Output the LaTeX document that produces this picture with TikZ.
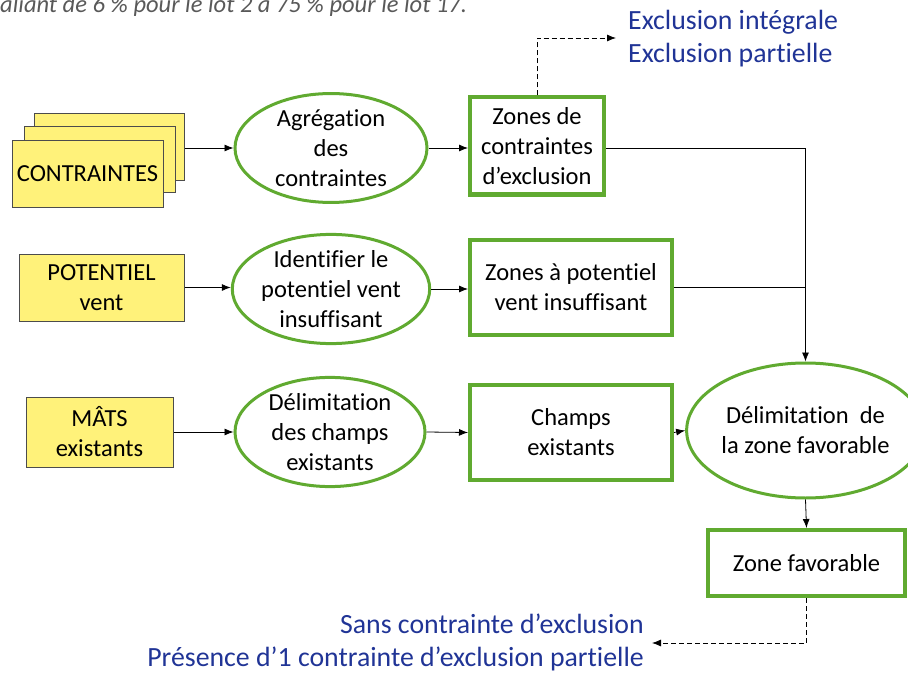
\documentclass[tikz,border=0pt]{standalone}
\usepackage{fontspec}
\setmainfont{Carlito}[Ligatures=NoCommon]
\usetikzlibrary{shapes.geometric,arrows.meta}
\definecolor{ybox}{RGB}{255,242,122}
\definecolor{gline}{RGB}{96,170,48}
\definecolor{btext}{RGB}{32,52,150}
\definecolor{gtext}{RGB}{89,89,89}
\tikzset{
  ybox/.style={draw=black!70, line width=1pt, fill=ybox, inner sep=0pt, align=center,
    font=\fontsize{24.5}{30}\selectfont},
  gell/.style={ellipse, draw=gline, line width=3pt, fill=white, inner sep=0pt, align=center,
    font=\fontsize{24.5}{30}\selectfont},
  grect/.style={draw=gline, line width=4pt, fill=white, inner sep=0pt, align=center,
    font=\fontsize{24.5}{30}\selectfont},
  conn/.style={line width=0.8pt, -{Latex[length=9pt,width=7pt]}},
  plain/.style={line width=0.8pt},
  dconn/.style={line width=0.8pt, dash pattern=on 5pt off 3pt, -{Latex[length=9pt,width=7pt]}},
  btxt/.style={text=btext, inner sep=0pt, font=\fontsize{27.8}{33}\selectfont},
}
\begin{document}
\begin{tikzpicture}[x=1pt,y=-1pt]
\useasboundingbox (0,0) rectangle (908,674);
% top cropped italic text
\node[anchor=base west, inner sep=0pt, text=gtext, font=\fontsize{24.5}{28}\selectfont\itshape] (top) at (0,13) {aliant de 6 \% pour le lot 2 à 75 \% pour le lot 17.};

% row 1
\node[ybox, minimum width=150pt, minimum height=67pt] (c3) at (109,147.5) {};
\node[ybox, minimum width=151pt, minimum height=66pt] (c2) at (99.5,160) {};
\node[ybox, minimum width=151pt, minimum height=66pt] (c1) at (87.5,174) {CONTRAINTES};
\node[gell, minimum width=192pt, minimum height=86pt] (e1) at (331,148) {Agrégation\\des\\contraintes};
\node[grect, minimum width=134pt, minimum height=97pt] (r1) at (537,146) {Zones de\\contraintes\\d’exclusion};

% row 2
\node[ybox, minimum width=165pt, minimum height=67pt] (p) at (101.5,287.5) {POTENTIEL\\vent};
\node[gell, minimum width=192pt, minimum height=84pt] (e2) at (331,289) {Identifier le\\potentiel vent\\insuffisant};
\node[grect, minimum width=202pt, minimum height=95pt] (r2) at (571,287.5) {Zones à potentiel\\vent insuffisant};

% row 3
\node[ybox, minimum width=147pt, minimum height=70pt] (m) at (99.5,432) {MÂTS\\existants};
\node[gell, minimum width=190pt, minimum height=92pt] (e3) at (330,432) {Délimitation\\des champs\\existants};
\node[grect, minimum width=202pt, minimum height=95pt] (r3) at (571,432.5) {Champs\\existants};
\node[gell, minimum width=195pt, minimum height=135pt] (ef) at (805.5,430.5) {Délimitation~~de\\la zone favorable};
\node[grect, minimum width=197pt, minimum height=66pt] (zf) at (806.5,563) {Zone favorable};

% blue texts (base anchor = baseline of last line)
\node[btxt, anchor=base west, align=left] (tex) at (628,63) {Exclusion intégrale\\Exclusion partielle};
\coordinate (ax) at (616,38);
\node[btxt, anchor=base east, align=right] (tbx) at (644,666) {Sans contrainte d’exclusion\\Présence d’1 contrainte d’exclusion partielle};
\coordinate (bx) at (652,643);

% connectors
\draw[conn] (c3.east |- 0,148) -- (e1.west);
\draw[conn] (e1.east) -- (e1.east -| r1.west);
\draw[conn] (r1.east |- e1.east) -| (ef.north);
\draw[plain] (r2.east) -- (r2.east -| ef.north);
\draw[conn] (p.east) -- (p.east -| e2.west);
\draw[conn] (e2.east) -- (e2.east -| r2.west);
\draw[conn] (m.east) -- (e3.west);
\draw[conn] (e3.east) -- (r3.west);
\draw[conn] (r3.east) -- (ef.west);
\draw[conn] (ef.south) -- (zf.north);
\draw[dconn] (r1.north) |- (ax);
\draw[dconn] (zf.south) |- (bx);
\end{tikzpicture}
\end{document}
